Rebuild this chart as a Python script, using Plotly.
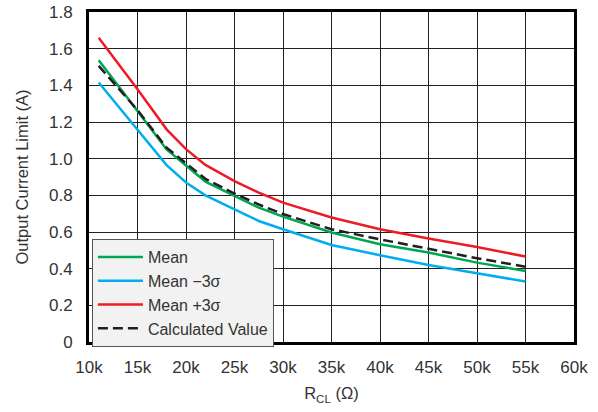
import plotly.graph_objects as go

r_k = [11, 13, 15, 18, 20, 22, 25, 27.5, 30, 35, 40, 45, 50, 55]
mean = [1.537, 1.40, 1.26, 1.05, 0.962, 0.875, 0.797, 0.733, 0.684, 0.597, 0.533, 0.488, 0.433, 0.387]
minus3 = [1.415, 1.285, 1.16, 0.965, 0.87, 0.80, 0.724, 0.66, 0.615, 0.529, 0.473, 0.42, 0.375, 0.33]
plus3 = [1.66, 1.52, 1.378, 1.16, 1.052, 0.966, 0.878, 0.815, 0.76, 0.679, 0.615, 0.564, 0.518, 0.466]
calc = [1.506, 1.385, 1.265, 1.06, 0.975, 0.89, 0.81, 0.75, 0.698, 0.615, 0.56, 0.509, 0.457, 0.411]

x_ticks = [10, 15, 20, 25, 30, 35, 40, 45, 50, 55, 60]
x_labels = ["10k", "15k", "20k", "25k", "30k", "35k", "40k", "45k", "50k", "55k", "60k"]
y_ticks = [0, 0.2, 0.4, 0.6, 0.8, 1.0, 1.2, 1.4, 1.6, 1.8]
y_labels = ["0", "0.2", "0.4", "0.6", "0.8", "1.0", "1.2", "1.4", "1.6", "1.8"]

x = [v * 1000 for v in r_k]

fig = go.Figure()
fig.add_trace(go.Scatter(x=x, y=mean, mode="lines", name="Mean",
                         line=dict(color="#00a651", width=2.5)))
fig.add_trace(go.Scatter(x=x, y=minus3, mode="lines", name="Mean \u22123\u03c3",
                         line=dict(color="#00aeef", width=2.5)))
fig.add_trace(go.Scatter(x=x, y=plus3, mode="lines", name="Mean +3\u03c3",
                         line=dict(color="#ed1c24", width=2.5)))
fig.add_trace(go.Scatter(x=x, y=calc, mode="lines", name="Calculated Value",
                         line=dict(color="#231f20", width=2.5, dash="10px,5px")))

font_family = "Liberation Sans, Arial, sans-serif"
fig.update_layout(
    width=598, height=412,
    margin=dict(l=89, r=24, t=12, b=70, autoexpand=False),
    paper_bgcolor="white", plot_bgcolor="white",
    font=dict(family=font_family, size=17, color="#333333"),
    showlegend=True,
    legend=dict(x=0.006, y=0.312, xanchor="left", yanchor="top",
                bgcolor="#f2f2f2", bordercolor="#555555", borderwidth=1,
                itemwidth=45,
                font=dict(size=16, color="#333333"), traceorder="normal"),
)
fig.update_xaxes(
    range=[10000, 60000], tickvals=[v * 1000 for v in x_ticks], ticktext=x_labels,
    showgrid=True, gridcolor="#222222", gridwidth=1,
    showline=True, linecolor="black", linewidth=3, mirror=True,
    zeroline=False, ticks="", ticklabelstandoff=8, automargin=False,
    title=dict(text="R<sub>CL</sub> (\u03a9)", font=dict(size=16.5), standoff=12),
)
fig.update_yaxes(
    range=[0, 1.8], tickvals=y_ticks, ticktext=y_labels,
    showgrid=True, gridcolor="#222222", gridwidth=1,
    showline=True, linecolor="black", linewidth=3, mirror=True,
    zeroline=False, ticks="", ticklabelstandoff=10, automargin=False,
    title=dict(text="Output Current Limit (A)", font=dict(size=16.5), standoff=17),
)

fig.write_html("out.html", config={"displayModeBar": False},
               post_script="document.body.style.margin='0';")
